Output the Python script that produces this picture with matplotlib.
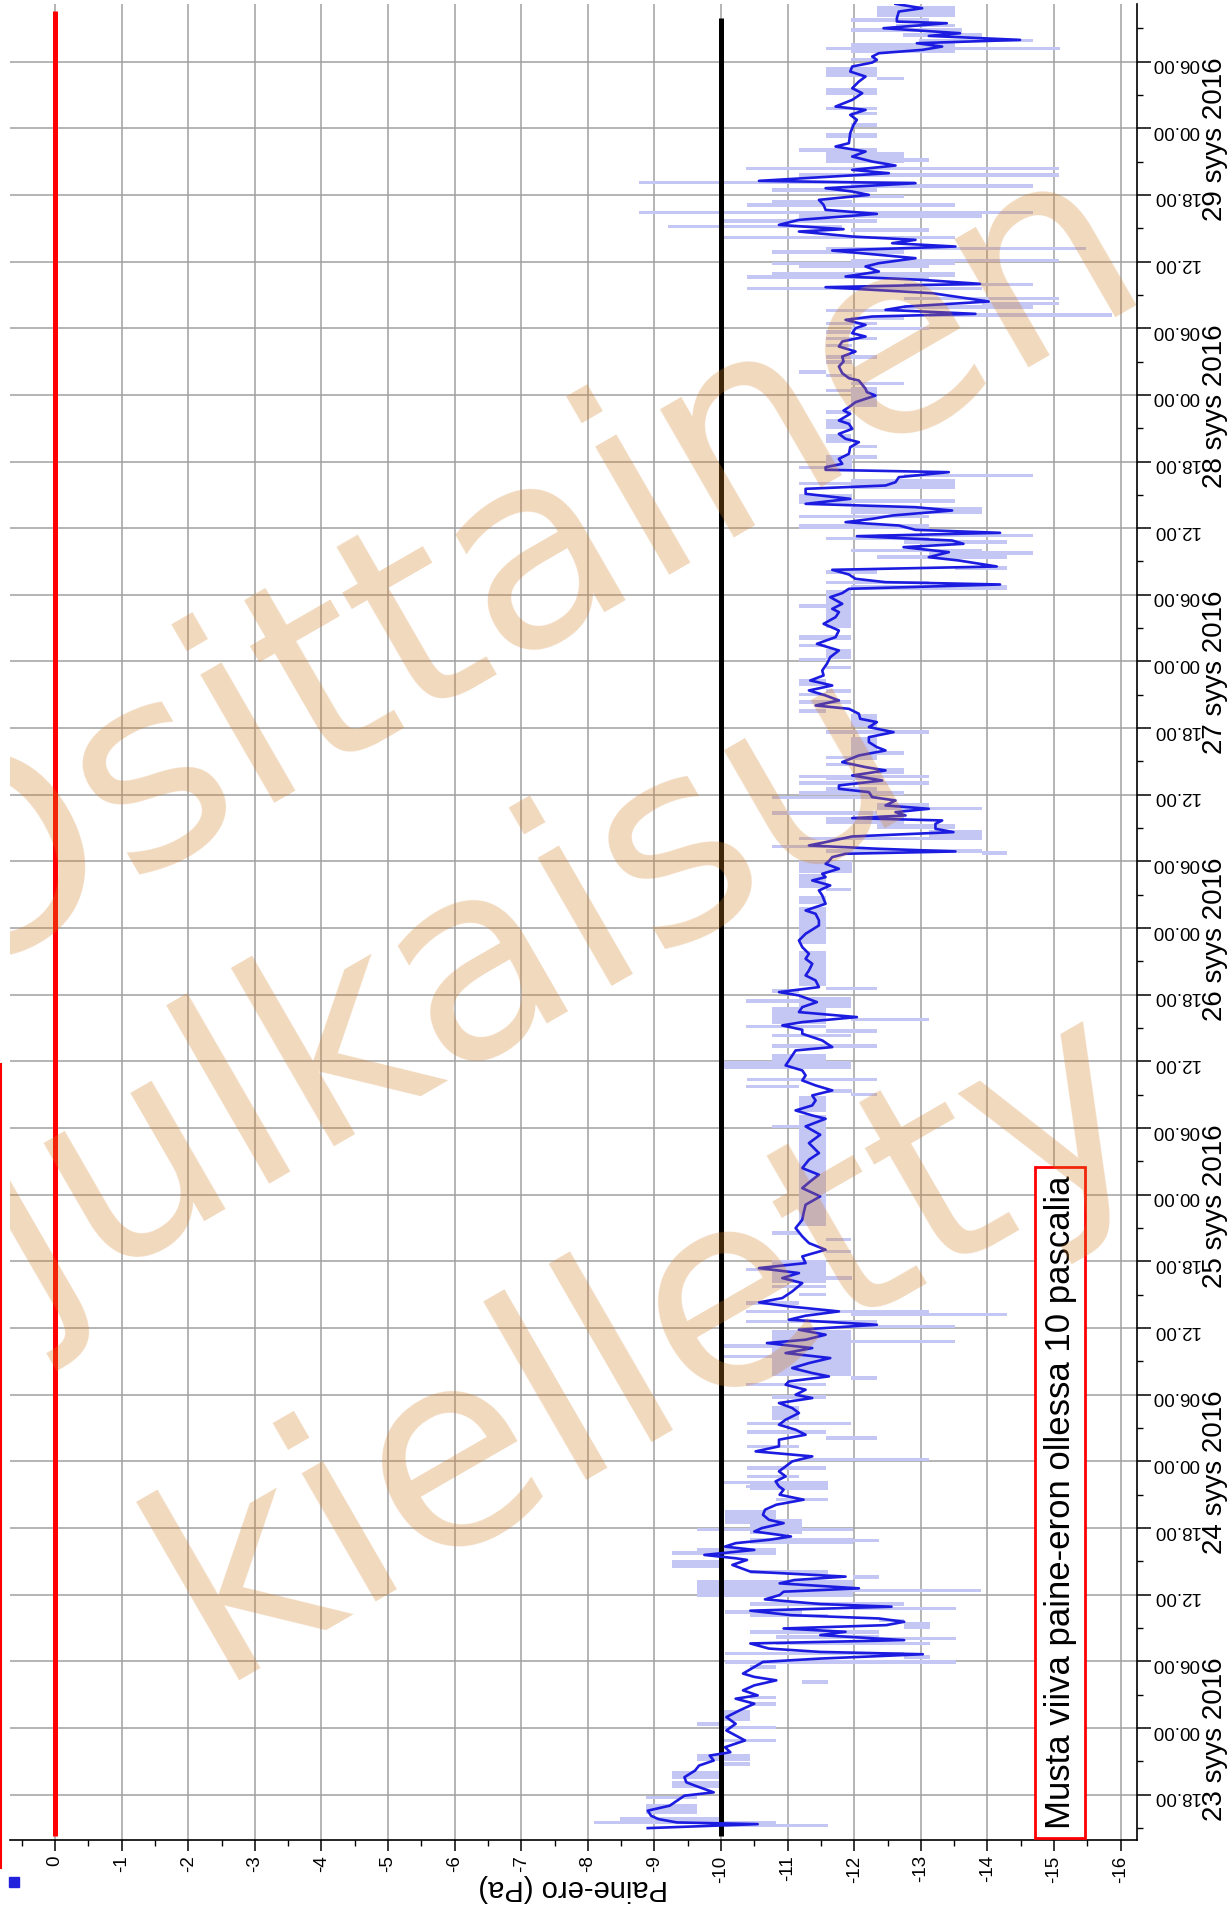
import matplotlib
matplotlib.use('Agg')
import matplotlib.pyplot as plt
from matplotlib.lines import Line2D
from matplotlib.patches import Rectangle
from matplotlib.ticker import MultipleLocator, FuncFormatter
from matplotlib.transforms import blended_transform_factory

plt.rcParams['font.family'] = ['Liberation Sans', 'DejaVu Sans']

# time axis: hours counted from 23 syys 2016 00.00, newest first
t_line = [
    179.19, 178.80, 178.50, 177.90, 177.60, 177.45, 177.00, 176.55, 176.31, 175.95,
    175.65, 175.35, 175.05, 174.75, 174.45, 174.15, 173.91, 173.55, 173.10, 172.65,
    172.20, 171.60, 171.15, 170.55, 169.95, 169.65, 169.20, 168.75, 168.30, 168.00,
    167.55, 166.65, 166.35, 165.90, 165.45, 165.00, 164.64, 164.25, 163.95, 163.26,
    163.05, 162.60, 162.30, 162.00, 161.55, 161.10, 160.65, 160.29, 159.75, 159.30,
    158.91, 158.70, 158.25, 157.95, 157.65, 157.35, 156.99, 156.30, 155.85, 155.55,
    155.10, 154.65, 154.35, 153.99, 153.69, 153.15, 152.40, 151.95, 151.65, 151.29,
    151.05, 150.75, 150.30, 150.00, 149.55, 149.25, 148.80, 148.35, 147.90, 147.45,
    147.00, 146.55, 145.95, 145.50,
    145.29, 144.54, 144.24, 143.94, 143.34, 142.89, 142.59, 142.29, 141.69, 141.39,
    140.94, 140.49, 140.04, 139.74, 139.29, 138.69, 138.24, 137.79, 137.49, 137.25,
    137.04, 136.59, 136.14, 135.84, 135.54, 135.09, 134.64, 134.19, 133.89, 133.59,
    133.14, 132.84, 132.54, 132.24, 131.85, 131.58, 131.28, 130.89, 130.59, 130.29,
    129.84, 129.39, 129.09, 128.55, 128.25, 127.83, 127.44, 127.14, 126.93, 126.54,
    126.15, 125.79, 125.19, 124.74, 124.44, 123.99, 123.39, 122.79, 122.19, 121.59,
    120.99, 120.39, 119.79, 119.19, 118.74, 118.29, 117.84, 117.39, 116.94, 116.49,
    116.04, 115.74, 115.29, 114.84, 114.54, 114.09, 113.64, 113.19, 112.74, 112.29,
    111.99, 111.54, 110.94, 110.49, 110.19, 109.74, 109.29, 108.84, 108.54, 108.24,
    107.79, 107.49, 107.04, 106.74, 106.44, 106.14, 105.90, 105.69, 105.39, 104.94,
    104.64, 104.25, 103.74, 103.44, 103.14, 102.90, 102.69, 102.39, 102.03, 101.79,
    101.34, 100.89, 100.59, 100.29, 99.84, 99.39, 98.94, 98.19, 97.59, 97.29,
    96.69, 96.24, 95.49, 94.89, 94.29, 93.69, 93.24, 92.79, 92.19, 91.74,
    91.29, 90.69, 90.24, 89.94, 89.34, 88.89, 88.44, 87.99, 87.54, 87.24,
    86.85, 86.49, 85.89, 85.29, 84.99, 84.54, 84.09, 83.64, 83.19, 82.74,
    82.29, 81.84, 81.39, 80.94, 80.49, 80.04, 79.59, 79.14, 78.84,
    78.15, 77.40, 76.65, 75.75, 75.15, 74.40, 73.80, 73.20, 72.60, 71.85,
    71.10, 70.35, 69.75, 69.00, 68.25, 67.65, 67.05, 66.45, 65.85, 65.40,
    64.95, 64.50, 64.05, 63.30, 62.70, 62.31, 61.95, 61.50, 61.11, 60.75,
    60.30, 59.85, 59.40, 58.95, 58.65, 58.20, 57.75, 57.30, 56.85, 56.40,
    55.95, 55.65, 55.20, 54.90, 54.45, 54.00, 53.70, 53.25, 52.80, 52.35,
    51.75, 51.30, 50.85, 50.40, 49.95, 49.35, 48.90, 48.45, 48.00, 47.55,
    47.10, 46.65, 46.20, 45.75,
    45.45, 45.00, 44.55, 44.10, 43.65, 43.19, 42.74, 42.44, 41.99, 41.69,
    41.24, 40.94, 40.64, 40.33, 40.03, 39.58, 39.28, 39.13, 38.68, 38.08,
    37.63, 37.32, 37.02, 36.57, 36.27, 35.97, 35.58, 35.16, 34.92, 34.56,
    34.16, 33.86, 33.56, 33.26, 32.96, 32.66, 32.36, 31.91, 31.61, 31.15,
    30.85, 30.64, 30.25, 29.95, 29.50, 28.90, 28.60, 28.29, 27.84, 27.39,
    26.94, 26.64, 26.19, 25.59, 24.98, 24.38, 23.78, 22.88, 22.27, 21.82,
    21.52, 21.07, 20.62, 20.17, 19.57, 19.11, 18.81, 18.21, 17.91, 17.46,
    17.01, 16.56, 16.10, 15.80, 15.50, 15.35, 14.99,
]
p_line = [
    -12.62, -13.02, -12.67, -12.64, -12.64, -13.39, -12.44, -13.59, -13.12, -14.49,
    -12.94, -13.32, -13.02, -12.37, -12.27, -12.34, -12.27, -11.97, -11.94, -12.17,
    -12.07, -11.97, -12.12, -11.97, -11.72, -12.17, -11.94, -12.04, -11.99, -11.97,
    -11.94, -11.92, -11.72, -12.17, -11.97, -12.27, -12.62, -11.97, -12.52, -10.57,
    -12.92, -11.57, -11.97, -12.22, -11.47, -11.54, -11.57, -12.34, -11.17, -10.87,
    -11.84, -11.17, -11.97, -12.92, -12.57, -13.52, -11.67, -12.92, -12.37, -12.17,
    -12.37, -11.87, -13.02, -13.89, -11.57, -13.17, -14.02, -12.77, -12.47, -13.82,
    -12.27, -11.87, -12.17, -12.02, -11.97, -12.17, -11.82, -11.77, -12.02, -11.82,
    -11.84, -11.77, -11.82, -11.92,
    -12.07, -12.17, -12.19, -12.32, -12.02, -11.92, -11.84, -11.94, -11.77, -11.92,
    -11.97, -11.77, -11.87, -12.07, -11.94, -11.92, -11.77, -11.82, -11.57, -11.57,
    -13.42, -12.67, -12.62, -12.47, -11.27, -11.27, -11.94, -11.27, -12.92, -13.47,
    -12.57, -12.27, -11.87, -12.67, -12.92, -14.19, -12.04, -13.47, -13.64, -12.74,
    -13.42, -13.12, -13.57, -14.14, -11.67, -11.92, -12.02, -12.47, -14.19, -11.92,
    -11.82, -11.64, -11.82, -11.67, -11.77, -11.72, -11.54, -11.77, -11.72, -11.44,
    -11.77, -11.64, -11.59, -11.52, -11.54, -11.34, -11.67, -11.32, -11.57, -11.77,
    -11.42, -11.92, -12.07, -12.09, -12.34, -12.22, -12.59, -12.22, -12.22, -12.34,
    -12.47, -12.07, -11.82, -12.17, -12.47, -11.97, -12.42, -11.77, -11.77, -12.22,
    -12.27, -12.62, -12.47, -13.12, -12.62, -12.77, -11.97, -13.32, -13.22, -13.22,
    -13.49, -11.97, -11.57, -11.32, -12.37, -13.52, -11.87, -11.67, -11.62, -11.57,
    -11.77, -11.52, -11.57, -11.37, -11.64, -11.47, -11.52, -11.57, -11.27, -11.42,
    -11.47, -11.47, -11.27, -11.17, -11.22, -11.32, -11.27, -11.37, -11.32, -11.27,
    -11.42, -11.47, -10.87, -11.17, -11.44, -11.22, -11.17, -12.04, -11.22, -10.92,
    -11.22, -11.22, -11.52, -11.67, -11.12, -11.07, -11.02, -10.97, -11.22, -11.27,
    -11.22, -11.42, -11.67, -11.37, -11.42, -11.37, -11.12, -11.37, -11.57,
    -11.27, -11.49, -11.32, -11.47, -11.32, -11.22, -11.47, -11.34, -11.22, -11.49,
    -11.27, -11.24, -11.22, -11.12, -11.22, -11.32, -11.57, -11.22, -11.27, -10.57,
    -11.17, -10.92, -11.22, -11.07, -10.92, -10.57, -11.02, -11.77, -11.27, -11.02,
    -12.34, -11.17, -11.57, -11.27, -10.69, -11.37, -10.97, -11.64, -11.32, -11.07,
    -11.37, -11.62, -11.02, -10.97, -11.27, -11.12, -11.37, -10.87, -11.07, -11.17,
    -10.97, -10.87, -11.12, -11.27, -10.87, -10.87, -10.52, -11.37, -11.07, -10.97,
    -10.87, -10.97, -10.82, -10.87,
    -10.94, -10.88, -11.24, -10.83, -10.66, -10.63, -10.72, -10.94, -10.61, -10.50,
    -11.05, -10.72, -10.22, -10.06, -10.50, -9.75, -10.22, -10.39, -10.17, -10.44,
    -11.87, -11.10, -10.88, -12.07, -10.94, -10.88, -10.66, -11.49, -12.56, -10.44,
    -11.05, -12.37, -12.75, -12.48, -10.94, -11.87, -11.49, -12.75, -10.44, -10.72,
    -11.49, -13.03, -11.49, -10.63, -10.50, -10.33, -10.50, -10.83, -10.50, -10.33,
    -10.55, -10.22, -10.50, -10.28, -10.08, -10.22, -10.08, -10.36, -10.06, -10.14,
    -9.83, -9.89, -9.67, -9.61, -9.45, -9.48, -9.61, -9.89, -9.45, -9.34,
    -9.23, -8.90, -8.95, -9.06, -9.34, -10.55, -8.90,
]

# min/max spread per interval: start hour, end hour, upper and lower value
bar_t0 = [
    178.05, 177.6, 177.1, 176.7, 176.25, 175.8, 174.75, 175.0, 174.05, 172.65,
    172.3, 171.0, 169.65, 169.2, 168.15, 167.1, 165.9, 164.85, 165.0, 164.25,
    163.65, 162.95, 162.65, 162.3, 161.7, 161.25, 160.95, 160.25, 159.95, 159.45,
    159.0, 158.7, 158.0, 157.0, 156.7, 155.95, 155.65, 155.4, 154.65, 154.45,
    153.8, 153.4, 152.5, 152.05, 151.75, 151.45, 151.05, 150.7, 150.25, 149.8,
    149.5, 148.9, 148.3, 147.25, 146.8, 145.9, 145.6,
    144.9, 142.9, 144.25, 142.3, 140.95, 139.7, 139.2, 138.25, 137.35, 137.3,
    136.6, 135.5, 135.85, 134.2, 134.3, 133.3, 132.9, 131.9, 131.2, 130.9,
    130.6, 129.85, 129.6, 129.25, 128.25, 127.9, 126.95, 126.4, 123.05, 124.85,
    121.9, 121.3, 120.2, 120.0, 119.3, 117.8, 117.2, 116.9, 116.2, 115.4,
    114.1, 113.5, 112.0,
    111.1, 111.6, 111.2, 110.6, 109.85, 109.5, 109.3, 108.9, 108.1, 108.0,
    107.6, 106.6, 106.6, 106.2, 105.4, 104.9, 103.9, 103.9, 103.2, 102.8,
    102.6, 101.0, 99.6, 99.3, 98.2, 94.6, 90.8, 90.4, 90.2, 88.8,
    89.3, 87.4, 87.6, 87.0, 86.6, 86.2, 85.2, 84.0, 83.7, 83.35,
    82.2, 81.6, 81.2, 80.9, 79.45, 78.85,
    69.15, 78.0, 68.4, 67.8, 66.75, 64.05, 65.1, 64.35, 63.6, 62.85,
    62.1, 61.35, 61.05, 60.45, 60.0, 55.65, 58.65, 58.25, 57.3, 56.95,
    56.4, 55.35, 54.75, 53.65, 51.75, 51.25, 50.5, 49.95, 49.2, 48.0,
    47.25, 46.5, 45.95, 45.6,
    45.45, 44.4, 42.4, 41.5, 41.7, 40.6, 40.75, 39.9, 39.6, 38.4,
    37.9, 37.45, 35.8, 36.2, 35.0, 34.6, 34.3, 34.0, 33.55, 32.9,
    32.5, 32.05, 31.9, 31.45, 30.55, 30.25, 29.8, 29.35, 28.0, 26.6,
    26.0, 24.6, 24.2, 23.9, 22.7, 21.05, 20.6, 19.4, 18.6, 17.6,
    16.25, 15.65, 15.35, 15.05,
]
bar_t1 = [
    179.01, 177.95, 177.4, 177.0, 176.55, 176.05, 175.65, 175.3, 174.35, 173.55,
    172.6, 171.6, 169.95, 169.5, 168.5, 167.55, 166.2, 165.9, 165.3, 164.55,
    163.95, 163.25, 162.95, 162.6, 162.0, 161.55, 161.25, 160.55, 160.25, 159.8,
    159.3, 159.0, 158.3, 157.3, 157.0, 156.25, 155.95, 155.7, 155.1, 154.75,
    154.1, 153.7, 152.8, 152.35, 152.05, 151.75, 151.35, 151.0, 150.55, 150.1,
    149.8, 149.2, 148.6, 147.55, 147.1, 146.2, 145.9,
    145.2, 144.7, 144.55, 142.6, 141.85, 140.5, 139.5, 138.55, 138.55, 137.6,
    136.9, 136.45, 136.15, 135.1, 134.6, 133.9, 133.2, 132.4, 131.5, 131.2,
    130.9, 130.15, 129.9, 129.55, 128.55, 128.2, 127.25, 126.85, 126.4, 125.15,
    122.35, 121.6, 121.1, 120.3, 119.6, 118.45, 117.5, 117.2, 116.5, 115.7,
    115.3, 113.8, 113.2,
    112.3, 111.9, 111.5, 110.9, 110.4, 109.8, 109.55, 109.2, 108.7, 108.3,
    107.9, 107.3, 106.9, 106.5, 106.0, 105.4, 104.8, 104.2, 103.5, 103.1,
    102.9, 102.0, 100.9, 99.6, 98.9, 97.9, 93.9, 90.7, 90.5, 89.8,
    89.6, 88.9, 87.9, 87.3, 86.9, 86.5, 85.6, 84.7, 84.0, 83.65,
    82.5, 81.9, 81.5, 81.2, 80.85, 79.15,
    78.85, 78.3, 68.7, 68.1, 67.05, 66.15, 65.4, 64.65, 63.9, 63.15,
    62.4, 61.65, 61.35, 60.75, 60.3, 59.85, 58.95, 58.55, 57.6, 57.25,
    56.7, 55.65, 55.05, 53.95, 52.95, 51.55, 50.8, 50.25, 49.5, 48.3,
    47.55, 46.8, 46.25, 45.9,
    46.2, 44.7, 43.6, 42.8, 42.0, 41.1, 41.05, 40.2, 39.9, 39.1,
    38.2, 37.75, 37.3, 36.5, 35.35, 34.9, 34.6, 34.3, 33.85, 33.5,
    32.8, 32.35, 32.2, 31.75, 30.85, 30.55, 30.1, 29.65, 28.3, 26.9,
    26.3, 25.6, 24.5, 24.2, 23.0, 21.7, 20.9, 20.15, 19.2, 17.9,
    17.15, 15.95, 15.65, 15.35,
]
bar_hi = [
    -12.34, -11.95, -12.62, -11.95, -12.73, -12.97, -11.95, -11.57, -11.95, -11.57,
    -12.34, -11.57, -11.57, -11.95, -11.95, -11.57, -11.17, -11.57, -12.74, -10.37,
    -11.17, -8.77, -11.95, -10.77, -11.95, -10.77, -10.39, -8.77, -11.17, -10.02,
    -9.21, -11.95, -10.02, -11.57, -10.77, -11.95, -10.77, -11.17, -10.77, -10.39,
    -12.74, -10.39, -12.74, -13.92, -12.74, -11.57, -13.12, -11.95, -11.57, -11.95,
    -11.57, -11.57, -11.57, -11.57, -11.57, -11.17, -11.57,
    -11.95, -11.95, -11.57, -11.57, -11.57, -11.57, -11.95, -11.95, -11.57, -11.17,
    -12.74, -11.95, -11.17, -11.17, -11.95, -11.95, -11.17, -11.17, -12.34, -11.57,
    -12.74, -11.95, -13.12, -12.34, -13.52, -11.57, -11.57, -11.95, -11.57, -11.17,
    -11.17, -11.17, -11.57, -11.17, -11.57, -11.17, -11.57, -11.17, -11.17, -11.17,
    -11.95, -11.57, -11.95,
    -11.95, -11.95, -11.57, -11.57, -12.34, -11.17, -11.57, -11.17, -11.57, -11.17,
    -10.77, -12.34, -12.74, -10.77, -11.57, -12.34, -13.12, -11.17, -10.77, -11.57,
    -13.92, -11.17, -11.17, -11.57, -11.17, -11.17, -11.17, -11.57, -10.77, -11.17,
    -10.37, -10.77, -11.95, -10.37, -11.57, -10.77, -10.77, -10.77, -10.02, -10.02,
    -10.39, -10.37, -11.57, -11.95, -11.17, -11.17,
    -11.17, -10.77, -10.77, -11.57, -11.57, -10.77, -10.37, -11.57, -10.77, -11.17,
    -10.37, -10.37, -11.95, -10.37, -11.95, -10.77, -11.95, -10.02, -10.02, -11.57,
    -11.57, -11.95, -10.37, -10.77, -10.77, -10.39, -10.39, -11.57, -10.39, -11.17,
    -10.39, -10.39, -10.02, -10.37,
    -10.44, -10.83, -10.06, -10.44, -9.64, -10.44, -11.98, -9.64, -9.26, -9.26,
    -10.44, -11.98, -9.64, -10.44, -10.44, -11.98, -10.06, -10.44, -12.37, -12.75,
    -10.44, -10.83, -12.37, -10.83, -10.06, -12.75, -10.06, -10.44, -11.21, -10.44,
    -10.44, -10.00, -9.64, -10.00, -10.00, -9.64, -10.00, -9.26, -9.26, -8.87,
    -8.87, -8.48, -8.10, -10.06,
]
bar_lo = [
    -13.52, -13.12, -13.52, -13.62, -13.92, -14.69, -13.52, -15.09, -12.34, -12.34,
    -12.74, -12.34, -12.34, -12.34, -12.34, -12.34, -12.34, -12.74, -13.12, -15.08,
    -15.08, -12.92, -14.69, -12.34, -12.74, -11.97, -13.52, -14.69, -13.92, -12.34,
    -11.82, -13.12, -13.52, -15.48, -12.74, -15.08, -13.52, -13.12, -13.52, -13.12,
    -14.69, -13.92, -15.08, -15.08, -14.69, -12.74, -15.87, -12.74, -12.34, -13.12,
    -11.95, -12.34, -11.97, -12.34, -11.97, -11.57, -11.97,
    -12.74, -12.34, -11.95, -11.95, -11.95, -11.95, -12.34, -12.34, -11.97, -11.97,
    -14.69, -13.52, -12.74, -11.97, -13.52, -13.92, -13.12, -13.12, -14.69, -13.12,
    -14.29, -13.92, -14.69, -14.29, -14.29, -12.34, -13.12, -14.29, -11.95, -11.57,
    -11.95, -11.57, -11.95, -11.57, -11.95, -11.57, -11.95, -11.57, -11.95, -11.57,
    -12.34, -13.12, -12.34,
    -12.34, -12.74, -12.34, -11.95, -12.74, -13.12, -12.34, -13.12, -12.34, -12.74,
    -12.34, -13.12, -13.92, -12.34, -12.74, -13.52, -13.92, -13.92, -11.57, -13.92,
    -14.29, -11.97, -11.57, -11.95, -11.57, -11.57, -11.57, -12.34, -11.17, -11.95,
    -11.57, -11.57, -13.12, -11.57, -12.34, -11.95, -12.34, -11.57, -11.95, -11.95,
    -12.34, -11.17, -11.97, -12.34, -11.57, -11.57,
    -11.57, -11.17, -11.17, -11.95, -11.95, -11.57, -11.17, -11.97, -11.57, -11.57,
    -11.17, -13.12, -14.29, -12.34, -13.52, -11.95, -13.52, -10.77, -11.17, -11.95,
    -11.95, -12.34, -11.57, -11.57, -11.17, -11.95, -11.57, -12.34, -11.17, -13.12,
    -11.57, -11.17, -11.57, -11.17,
    -11.60, -11.60, -10.83, -11.21, -11.98, -11.98, -12.37, -10.83, -10.83, -10.00,
    -11.60, -12.37, -11.98, -13.91, -12.75, -13.53, -11.21, -11.60, -12.75, -13.14,
    -12.37, -12.37, -13.53, -13.14, -12.75, -13.14, -13.53, -10.83, -11.60, -10.83,
    -10.83, -10.44, -10.00, -10.83, -10.83, -10.44, -10.44, -10.00, -10.00, -9.64,
    -9.64, -10.00, -10.83, -11.60,
]

# reference lines: value and time span
ref_values = [0, -10]
ref_colors = ['#ff0000', '#000000']
ref_start = [14.3, 14.3]
ref_end = [178.55, 177.9]

day_names = ['23 syys 2016', '24 syys 2016', '25 syys 2016', '26 syys 2016',
             '27 syys 2016', '28 syys 2016', '29 syys 2016']
day_label_hour = [23, 47, 71, 95, 119, 143, 167]

watermark = ['Osittainen', 'julkaisu', 'kielletty']
watermark_xy = [(0.447, 0.668), (0.392, 0.444), (0.560, 0.265)]

W, H = 1228, 1914
fig = plt.figure(figsize=(W / 100, H / 100), dpi=100)
ax = fig.add_axes([10 / W, 74 / H, 1127 / W, 1836 / H])

ax.barh([(a + b) / 2 for a, b in zip(bar_t0, bar_t1)],
        [lo - hi for lo, hi in zip(bar_lo, bar_hi)],
        height=[b - a for a, b in zip(bar_t0, bar_t1)],
        left=bar_hi, color='#c4c6f3', edgecolor='none', zorder=2)

for v, c, a, b in zip(ref_values, ref_colors, ref_start, ref_end):
    ax.plot([v, v], [a, b], color=c, lw=3.6, solid_capstyle='butt', zorder=3)

ax.plot(p_line, t_line, color='#1c1ce0', lw=1.9, zorder=4)

ax.set_xlim(0.676, -16.246)
ax.set_ylim(13.92, 179.18)

for side in ['top', 'left']:
    ax.spines[side].set_visible(False)
for side in ['bottom', 'right']:
    ax.spines[side].set_linewidth(1.2)

ax.yaxis.tick_right()
ax.yaxis.set_major_locator(MultipleLocator(6))
ax.yaxis.set_minor_locator(MultipleLocator(3))
ax.yaxis.set_major_formatter(FuncFormatter(lambda t, pos: '%02d.00' % (int(round(t)) % 24)))
ax.xaxis.set_major_locator(MultipleLocator(1))
ax.xaxis.set_minor_locator(MultipleLocator(0.5))
ax.xaxis.set_major_formatter(FuncFormatter(lambda v, pos: '%d' % int(round(v))))

ax.tick_params(axis='y', which='major', direction='out', length=10, width=1.1,
               labelsize=13.5, labelrotation=180, pad=1)
ax.tick_params(axis='y', which='minor', direction='out', length=4, width=1.0)
ax.tick_params(axis='x', which='major', direction='out', length=8, width=1.1,
               labelsize=13.5, labelrotation=90, pad=3)
ax.tick_params(axis='x', which='minor', direction='out', length=4, width=1.0)

ax.grid(True, which='major', color='#a0a0a0', lw=1.1, zorder=0)
ax.set_axisbelow(True)

ax.set_xlabel('Paine-ero (Pa)', fontsize=21, rotation=180, labelpad=-6)

# day names sit on a baseline just inside the right edge of the figure
trans = blended_transform_factory(ax.transAxes, ax.transData)
for name, hour in zip(day_names, day_label_hour):
    ax.text((1222 - 10) / 1127, hour, name, transform=trans, rotation=90,
            rotation_mode='anchor', ha='center', va='baseline',
            fontsize=20, clip_on=False)

ax.text(-15.09, 44.3, 'Musta viiva paine-eron ollessa 10 pascalia', rotation=90,
        ha='center', va='center', fontsize=25, zorder=6,
        bbox=dict(boxstyle='square,pad=0.25', fc='white', ec='red', lw=2))

for word, (x, y) in zip(watermark, watermark_xy):
    t = ax.text(x, y, word, transform=fig.transFigure, rotation=30,
                rotation_mode='anchor', ha='center', va='baseline',
                fontsize=196, family='DejaVu Sans', color='#d38026',
                alpha=0.3, zorder=10)
    t.set_clip_on(True)
    t.set_clip_box(ax.bbox)

fig.add_artist(Line2D([1 / W, 1 / W], [46 / H, (H - 1064) / H], color='red',
                      lw=1.5, transform=fig.transFigure))
fig.add_artist(Rectangle((9 / W, 27 / H), 10 / W, 10 / H, color='#2222dd',
                         transform=fig.transFigure))

fig.savefig('out.png', dpi=100)
